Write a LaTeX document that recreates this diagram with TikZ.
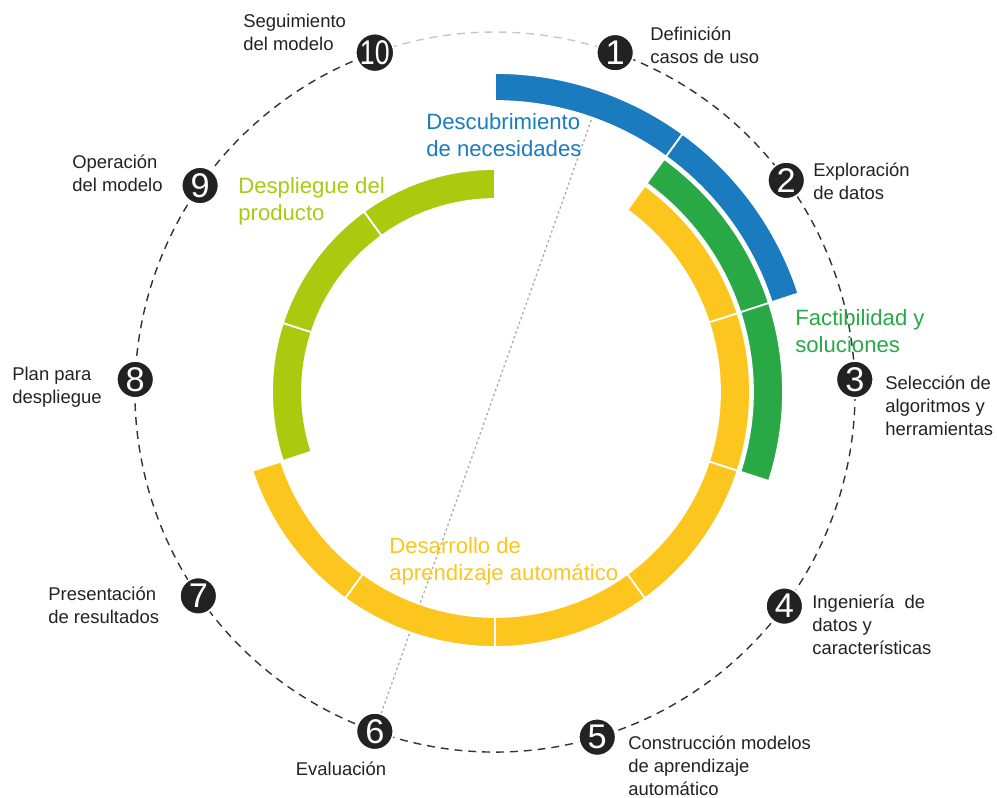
\documentclass[tikz,border=0pt]{standalone}
\usepackage{fontspec}
\setmainfont{Liberation Sans}
\usepackage{graphicx}
\definecolor{mlblue}{HTML}{1A7BBF}
\definecolor{mlgreen}{HTML}{29A846}
\definecolor{mlyellow}{HTML}{FDC61E}
\definecolor{mllime}{HTML}{ABC90F}
\definecolor{numgray}{HTML}{222222}
\begin{document}
\begin{tikzpicture}[
  num/.style={circle,fill=numgray,draw=white,line width=1pt,text=white,minimum size=0.74cm,inner sep=0pt,font=\fontsize{19.5}{19.5}\selectfont},
  lbl/.style={anchor=west,align=left,inner sep=0pt,text=numgray,font=\fontsize{10.5}{13}\selectfont},
  phase/.style={anchor=west,align=left,inner sep=0pt,font=\fontsize{12.6}{15.3}\selectfont},
  seg/.style={draw=white,line width=1pt}
]
\useasboundingbox (-9.9,-8.12) rectangle (10.04,7.84);
% dashed cycle
\draw[black!80,dash pattern=on 4.5pt off 3.4pt,line width=0.8pt] (70.5:7.2) arc[start angle=70.5,end angle=-250.5,radius=7.2];
\draw[black!22,dash pattern=on 4.5pt off 3.4pt,line width=0.8pt] (70.5:7.2) arc[start angle=70.5,end angle=109.5,radius=7.2];
% steps
\foreach \i/\a in {1/70.5,2/36,3/2,4/-36.5,5/-73.5,6/-109.5,7/-145.5,8/178,9/145}
  \node[num] (n\i) at (\a:7.2) {\i};
\node[num] (n10) at (109.5:7.2) {\scalebox{0.78}[1]{10}};
\coordinate (axis) at (70.5:5.82);
\draw[black!35,dash pattern=on 1.3pt off 1.6pt,line width=0.7pt] (n6) -- (axis);
% phase rings
\foreach \a in {90,54}
  \filldraw[seg,fill=mlblue] (\a:6.38) arc[start angle=\a,delta angle=-36,radius=6.38] -- ({\a-36}:5.82) arc[start angle={\a-36},delta angle=36,radius=5.82] -- cycle;
\foreach \a in {54,18}
  \filldraw[seg,fill=mlgreen] (\a:5.76) arc[start angle=\a,delta angle=-36,radius=5.76] -- ({\a-36}:5.16) arc[start angle={\a-36},delta angle=36,radius=5.16] -- cycle;
\foreach \a in {54,18,-18,-54,-90,-126}
  \filldraw[seg,fill=mlyellow] (\a:5.1) arc[start angle=\a,delta angle=-36,radius=5.1] -- ({\a-36}:4.5) arc[start angle={\a-36},delta angle=36,radius=4.5] -- cycle;
\foreach \a in {126,162,198}
  \filldraw[seg,fill=mllime] (\a:4.46) arc[start angle=\a,delta angle=-36,radius=4.46] -- ({\a-36}:3.86) arc[start angle={\a-36},delta angle=36,radius=3.86] -- cycle;
% phase names
\node[phase,text=mlblue] (pdisc) at (-1.38,5.14) {Descubrimiento\\de necesidades};
\node[phase,text=mllime] (pdepl) at (-5.14,3.82) {Despliegue del\\producto};
\node[phase,text=mlgreen] (pfeas) at (6.00,1.22) {Factibilidad y\\soluciones};
\node[phase,text=mlyellow] (pdev) at (-2.12,-3.38) {Desarrollo de\\aprendizaje automático};
% step names
\node[lbl] (l1) at (3.10,6.94) {Definición\\casos de uso};
\node[lbl] (l2) at (6.36,4.22) {Exploración\\de datos};
\node[lbl] (l3) at (7.80,-0.28) {Selección de\\algoritmos y\\herramientas};
\node[lbl] (l4) at (6.34,-4.66) {Ingeniería\ \ de\\datos y\\características};
\node[lbl] (l5) at (2.66,-7.48) {Construcción modelos\\de aprendizaje\\automático};
\node[lbl,anchor=center] (l6) at (-3.08,-7.54) {Evaluación};
\node[lbl] (l7) at (-8.94,-4.26) {Presentación\\de resultados};
\node[lbl] (l8) at (-9.66,0.10) {Plan para\\despliegue};
\node[lbl] (l9) at (-8.46,4.38) {Operación\\del modelo};
\node[lbl] (l10) at (-5.04,7.20) {Seguimiento\\del modelo};
\end{tikzpicture}
\end{document}
